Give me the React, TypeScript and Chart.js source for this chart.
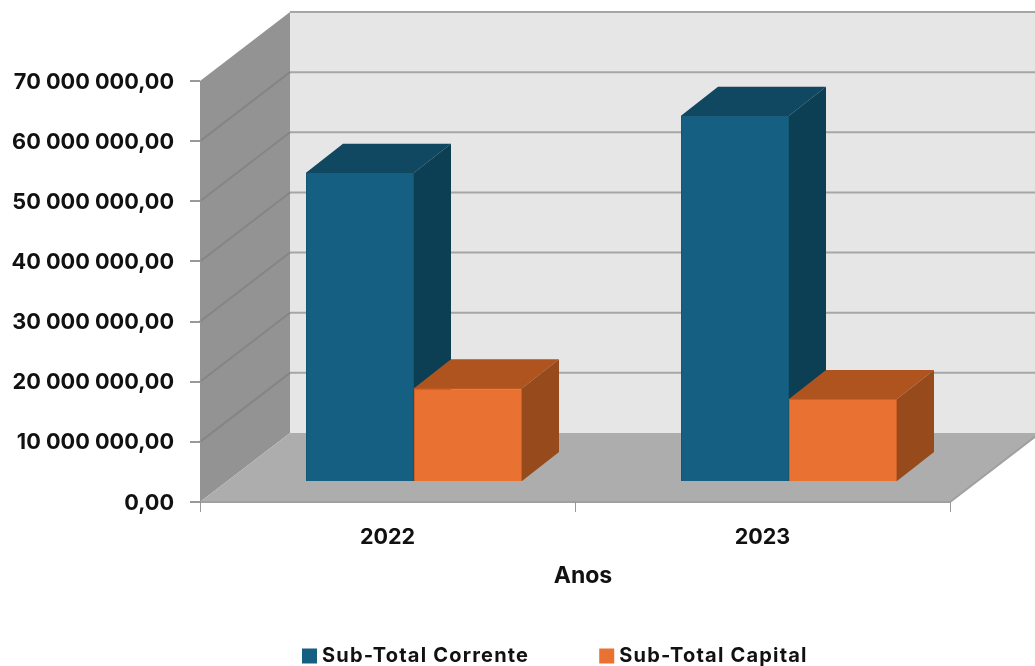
import React, { useEffect, useRef } from "react";
import { Chart, registerables } from "chart.js";

Chart.register(...registerables);

const categories = ["2022", "2023"];
const correnteValues = [51400000, 60900000];
const capitalValues = [15600000, 13800000];
const yTickLabels = [
  "0,00",
  "10 000 000,00",
  "20 000 000,00",
  "30 000 000,00",
  "40 000 000,00",
  "50 000 000,00",
  "60 000 000,00",
  "70 000 000,00",
];

const FONT = "Inter";

// Oblique depth of the room and of the bars, in canvas pixels.
const ROOM_DX = 90;
const ROOM_DY = -69;
const BAR_DX = 37;
const BAR_DY = -29;
const BAR_SHIFT_X = 26.5;
const BAR_SHIFT_Y = -20;

const barShades = [
  { top: "#104861", side: "#0c3e54" },
  { top: "#b0541f", side: "#974a1c" },
];

function poly(ctx: CanvasRenderingContext2D, pts: number[][], fill: string) {
  ctx.beginPath();
  pts.forEach(([x, y], i) => (i ? ctx.lineTo(x, y) : ctx.moveTo(x, y)));
  ctx.closePath();
  ctx.fillStyle = fill;
  ctx.fill();
}

// Back wall, side wall and floor with their gridlines.
const roomPlugin = {
  id: "room",
  beforeDraw(chart: any) {
    const { ctx, chartArea, scales } = chart;
    const { left, right, bottom, top } = chartArea;
    const y = scales.y;
    ctx.save();
    poly(ctx, [[left + ROOM_DX, top + ROOM_DY], [right + ROOM_DX, top + ROOM_DY], [right + ROOM_DX, bottom + ROOM_DY], [left + ROOM_DX, bottom + ROOM_DY]], "#e6e6e6");
    poly(ctx, [[left, top], [left + ROOM_DX, top + ROOM_DY], [left + ROOM_DX, bottom + ROOM_DY], [left, bottom]], "#939393");
    poly(ctx, [[left, bottom], [left + ROOM_DX, bottom + ROOM_DY], [right + ROOM_DX, bottom + ROOM_DY], [right, bottom]], "#adadad");
    ctx.lineWidth = 2;
    y.ticks.forEach((t: any) => {
      const py = y.getPixelForValue(t.value);
      if (t.value > 0) {
        ctx.strokeStyle = "#a6a6a6";
        ctx.beginPath();
        ctx.moveTo(left + ROOM_DX, py + ROOM_DY);
        ctx.lineTo(right + ROOM_DX, py + ROOM_DY);
        ctx.stroke();
        if (t.value < y.max) {
          ctx.strokeStyle = "#858585";
          ctx.beginPath();
          ctx.moveTo(left, py);
          ctx.lineTo(left + ROOM_DX, py + ROOM_DY);
          ctx.stroke();
        }
      }
    });
    // Front and right edges of the floor.
    ctx.strokeStyle = "#a0a0a0";
    ctx.beginPath();
    ctx.moveTo(left, bottom);
    ctx.lineTo(right, bottom);
    ctx.lineTo(right + ROOM_DX, bottom + ROOM_DY);
    ctx.stroke();
    ctx.restore();
  },
};

// Tops and sides of the bars; the fronts come from the bar elements themselves.
const prismPlugin = {
  id: "prism",
  beforeDatasetsDraw(chart: any) {
    const { ctx } = chart;
    ctx.save();
    ctx.translate(BAR_SHIFT_X, BAR_SHIFT_Y);
    chart.data.datasets.forEach((_: any, di: number) => {
      chart.getDatasetMeta(di).data.forEach((bar: any) => {
        const { x, y, base, width } = bar.getProps(["x", "y", "base", "width"], true);
        const l = x - width / 2;
        const r = x + width / 2;
        poly(ctx, [[l, y + 1], [l, y], [l + BAR_DX, y + BAR_DY], [r + BAR_DX, y + BAR_DY], [r, y], [r, y + 1]], barShades[di].top);
        poly(ctx, [[r, y], [r + BAR_DX, y + BAR_DY], [r + BAR_DX, base + BAR_DY], [r, base]], barShades[di].side);
      });
    });
  },
  afterDatasetsDraw(chart: any) {
    chart.ctx.restore();
  },
};

// Places the legend row, widens its lettering and centres the axis title under the floor.
const placementPlugin = {
  id: "placement",
  beforeLayout(chart: any) {
    const legend = chart.legend;
    if (legend.$spaced) return;
    legend.$spaced = true;
    ["fit", "draw"].forEach((name) => {
      const original = legend[name];
      legend[name] = function (...args: any[]) {
        chart.ctx.letterSpacing = "1.2px";
        const result = original.apply(this, args);
        chart.ctx.letterSpacing = "0px";
        return result;
      };
    });
  },
  afterLayout(chart: any) {
    const legend = chart.legend;
    legend.left = 232;
    legend.right = 1035;
    legend.top = 571;
    legend.bottom = 666;
    chart.scales.x.right += 16;
  },
};

export default function App() {
  const ref = useRef<HTMLCanvasElement>(null);
  useEffect(() => {
    const chart = new Chart(ref.current as HTMLCanvasElement, {
      type: "bar",
      data: {
        labels: categories,
        datasets: [
          { label: "Sub-Total Corrente", data: correnteValues, backgroundColor: "#156082", borderColor: "#125874", borderWidth: 1, clip: false },
          { label: "Sub-Total Capital", data: capitalValues, backgroundColor: "#e97132", borderColor: "#cb6029", borderWidth: 1, clip: false },
        ],
      } as any,
      options: {
        animation: false,
        responsive: false,
        layout: { padding: { top: 81, right: 85, left: 0, bottom: 0 } },
        datasets: { bar: { categoryPercentage: 0.576, barPercentage: 1 } },
        plugins: {
          tooltip: { enabled: false },
          legend: {
            position: "bottom",
            align: "start",
            maxHeight: 30,
            labels: {
              boxWidth: 5,
              boxHeight: 5,
              padding: 75,
              color: "#111",
              font: { family: FONT, size: 20, weight: "bold" },
              generateLabels(c: any) {
                return Chart.defaults.plugins.legend.labels.generateLabels(c).map((it: any) => ({
                  ...it,
                  strokeStyle: it.fillStyle,
                  lineWidth: 10,
                }));
              },
            },
          },
        },
        scales: {
          x: {
            afterFit(s: any) {
              s.height = 134;
            },
            grid: { drawOnChartArea: false, color: "#999", tickLength: 10, lineWidth: 1 },
            border: { display: false },
            ticks: { color: "#111", padding: 13, font: { family: FONT, size: 21.5, weight: "bold" } },
            title: {
              display: true,
              text: "Anos",
              color: "#111",
              padding: { top: 0, bottom: 46 },
              font: { family: FONT, size: 23, weight: "bold" },
            },
          },
          y: {
            min: 0,
            max: 70000000,
            afterFit(s: any) {
              s.width = 200;
            },
            grid: { drawOnChartArea: false, color: "#999", tickLength: 10, lineWidth: 2 },
            border: { color: "#939393", width: 1 },
            ticks: {
              stepSize: 10000000,
              color: "#111",
              padding: 16,
              labelOffset: 1,
              font: { family: FONT, size: 21.7, weight: "bold" },
              callback: (_: any, i: number) => yTickLabels[i],
            },
          },
        },
      } as any,
      plugins: [roomPlugin, prismPlugin, placementPlugin],
    });
    return () => chart.destroy();
  }, []);
  return (
    <div style={{ position: "fixed", left: 0, top: 0, width: 1035, height: 666, background: "#fff" }}>
      <canvas ref={ref} width={1035} height={666} style={{ display: "block" }} />
    </div>
  );
}
